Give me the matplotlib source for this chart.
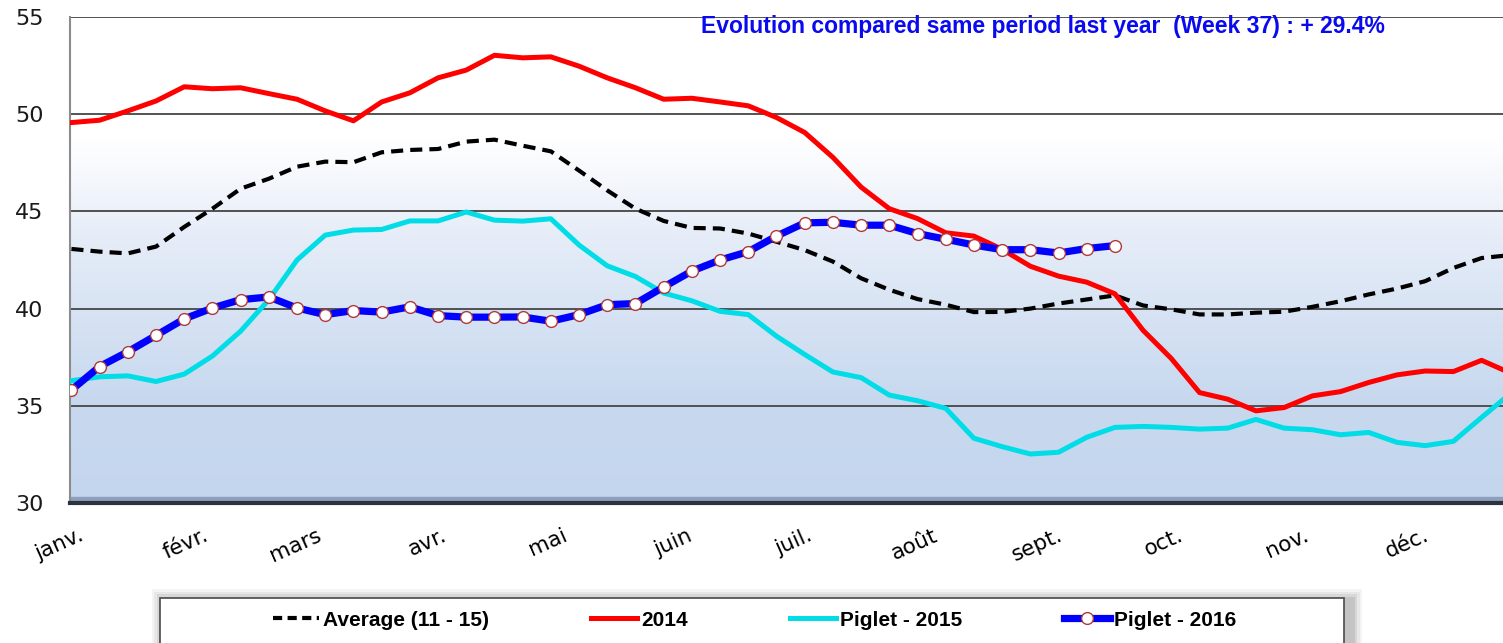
import numpy as np
import pandas as pd
import matplotlib
matplotlib.use('Agg')
import matplotlib.pyplot as plt
from matplotlib.lines import Line2D
from matplotlib.patches import Rectangle
from matplotlib.colors import LinearSegmentedColormap

# ------------------------------------------------------------------
# data (weekly prices)
# ------------------------------------------------------------------
months = ['janv.', 'févr.', 'mars', 'avr.', 'mai', 'juin',
          'juil.', 'août', 'sept.', 'oct.', 'nov.', 'déc.']

avg_11_15 = [43.07, 42.93, 42.84, 43.19, 44.20, 45.14, 46.17, 46.68, 47.30, 47.56,
             47.53, 48.04, 48.16, 48.21, 48.59, 48.69, 48.38, 48.09, 47.10, 46.08,
             45.14, 44.51, 44.15, 44.12, 43.86, 43.44, 43.01, 42.42, 41.56, 40.97,
             40.49, 40.20, 39.82, 39.83, 40.00, 40.26, 40.47, 40.68, 40.16, 39.96,
             39.70, 39.70, 39.79, 39.84, 40.09, 40.38, 40.73, 41.03, 41.41, 42.09,
             42.60, 42.75]

price_2014 = [49.57, 49.69, 50.17, 50.68, 51.41, 51.31, 51.36, 51.06, 50.77, 50.17,
              49.66, 50.63, 51.10, 51.87, 52.27, 53.03, 52.90, 52.95, 52.47, 51.87,
              51.36, 50.77, 50.82, 50.63, 50.43, 49.83, 49.06, 47.78, 46.25, 45.14,
              44.63, 43.90, 43.73, 43.05, 42.18, 41.67, 41.36, 40.76, 38.88, 37.43,
              35.68, 35.34, 34.74, 34.91, 35.51, 35.73, 36.20, 36.59, 36.79, 36.76,
              37.34, 36.70]

piglet_2015 = [36.29, 36.49, 36.54, 36.25, 36.63, 37.56, 38.84, 40.46, 42.50, 43.78,
               44.04, 44.07, 44.51, 44.51, 44.97, 44.55, 44.50, 44.62, 43.27, 42.20,
               41.65, 40.80, 40.40, 39.86, 39.69, 38.58, 37.64, 36.74, 36.45, 35.55,
               35.26, 34.87, 33.33, 32.90, 32.52, 32.61, 33.38, 33.89, 33.94, 33.89,
               33.80, 33.85, 34.30, 33.85, 33.77, 33.51, 33.63, 33.12, 32.95, 33.17,
               34.40, 35.60]

piglet_2016 = [35.81, 37.02, 37.78, 38.62, 39.47, 40.03, 40.46, 40.60, 40.03, 39.69,
               39.90, 39.82, 40.09, 39.64, 39.56, 39.56, 39.57, 39.35, 39.69, 40.20,
               40.26, 41.11, 41.93, 42.50, 42.93, 43.73, 44.41, 44.44, 44.29, 44.29,
               43.86, 43.57, 43.27, 43.03, 43.03, 42.86, 43.09, 43.24]

subtitle = 'Evolution compared same period last year  (Week 37) : + 29.4%'

# ------------------------------------------------------------------
# figure
# ------------------------------------------------------------------
fig = plt.figure(figsize=(15.03, 6.43), dpi=100)
ax = fig.add_axes([70 / 1503, 1 - 503 / 643, 1 - 70 / 1503, (503 - 17) / 643])

# gradient background: white at top -> light blue at bottom
grad_cmap = LinearSegmentedColormap.from_list(
    'bg', [(0.0, '#c4d6ee'), (0.22, '#c8d9ef'), (0.55, '#e6edf8'), (0.75, '#ffffff'), (1.0, '#ffffff')])
grad = np.linspace(0, 1, 256).reshape(-1, 1)
ax.imshow(grad, extent=[0, 1, 0, 1], transform=ax.transAxes, origin='lower',
          aspect='auto', cmap=grad_cmap, zorder=0)

weeks = np.arange(len(avg_11_15))
weeks16 = np.arange(len(piglet_2016))

l_avg, = ax.plot(weeks, avg_11_15, color='black', lw=3.0, zorder=3,
                 solid_capstyle='butt', dash_capstyle='butt')
l_avg.set_dashes([2.9, 1.7])
l_14, = ax.plot(weeks, price_2014, color='#ff0000', lw=3.6, zorder=4)
l_15, = ax.plot(weeks, piglet_2015, color='#00dde6', lw=3.6, zorder=4)
l_16, = ax.plot(weeks16, piglet_2016, color='#0000ff', lw=5.2, zorder=5,
                marker='o', markersize=8.5, markerfacecolor='white',
                markeredgecolor='#b03a3a', markeredgewidth=1.0)

ax.set_ylim(30, 55)
ax.set_xlim(-0.05, 50.76)
ax.set_yticks([30, 35, 40, 45, 50, 55])
ax.grid(axis='y', color='#454545', lw=1.3, zorder=1)
ax.set_axisbelow(True)

# month ticks at first day of each month, expressed in weeks
month_start = pd.date_range('2015-01-01', periods=12, freq='MS').dayofyear.values - 1
ax.set_xticks(month_start / 7 + 0.25)
ax.set_xticklabels(months, rotation=24, ha='right', rotation_mode='anchor',
                   fontsize=15.5, family='DejaVu Sans')
ax.tick_params(axis='x', length=0, pad=16)
ax.tick_params(axis='y', length=0, pad=19, labelsize=16, labelcolor='#1a1a1a')

for s in ['top', 'right']:
    ax.spines[s].set_visible(False)
ax.spines['left'].set_color('#8c8c8c')
ax.spines['left'].set_linewidth(1.5)
ax.spines['bottom'].set_color('#2c3340')
ax.spines['bottom'].set_linewidth(3)
ax.axhspan(30, 30.3, color='#8e9fbb', zorder=1)

fig.text(1385 / 1503, 1 - 27 / 643, subtitle, ha='right', va='center',
         color='#0a0aee', fontsize=16.5, fontweight='bold', family='Liberation Sans')

# legend box with soft shadow
bx, by, bw, bh = 160 / 1503, -0.02, (1344 - 160) / 1503, 1 - 598 / 643 + 0.02
for k, a in enumerate([0.08, 0.10, 0.14, 0.2]):
    d = (4 - k) * 2.5 / 1503
    fig.patches.append(Rectangle((bx - d + 2 / 1503, by), bw + 2 * d + 6 / 1503, bh + d * 1503 / 643 - 0.002,
                                 transform=fig.transFigure, facecolor='#7a7a7a',
                                 alpha=a, edgecolor='none', zorder=0))
fig.patches.append(Rectangle((bx, by), bw, bh, transform=fig.transFigure,
                             facecolor='white', edgecolor='#4a4a4a', lw=1.2, zorder=1))

handles = [
    Line2D([], [], color='black', lw=3.0, dashes=[2.2, 1.3]),
    Line2D([], [], color='#ff0000', lw=3.6),
    Line2D([], [], color='#00dde6', lw=3.6),
    Line2D([], [], color='#0000ff', lw=5.2, marker='o', markersize=8.5,
           markerfacecolor='white', markeredgecolor='#b03a3a', markeredgewidth=1.0),
]
labels = ['Average (11 - 15)', '2014', 'Piglet - 2015', 'Piglet - 2016']
leg = fig.legend(handles, labels, ncol=4, frameon=False, loc='center',
                 bbox_to_anchor=(755 / 1503, 1 - 620 / 643),
                 handlelength=2.2, handletextpad=0.2, columnspacing=4.9,
                 prop={'family': 'Liberation Sans', 'weight': 'bold', 'size': 15})
leg.set_zorder(3)

fig.savefig('out.png', dpi=100)
